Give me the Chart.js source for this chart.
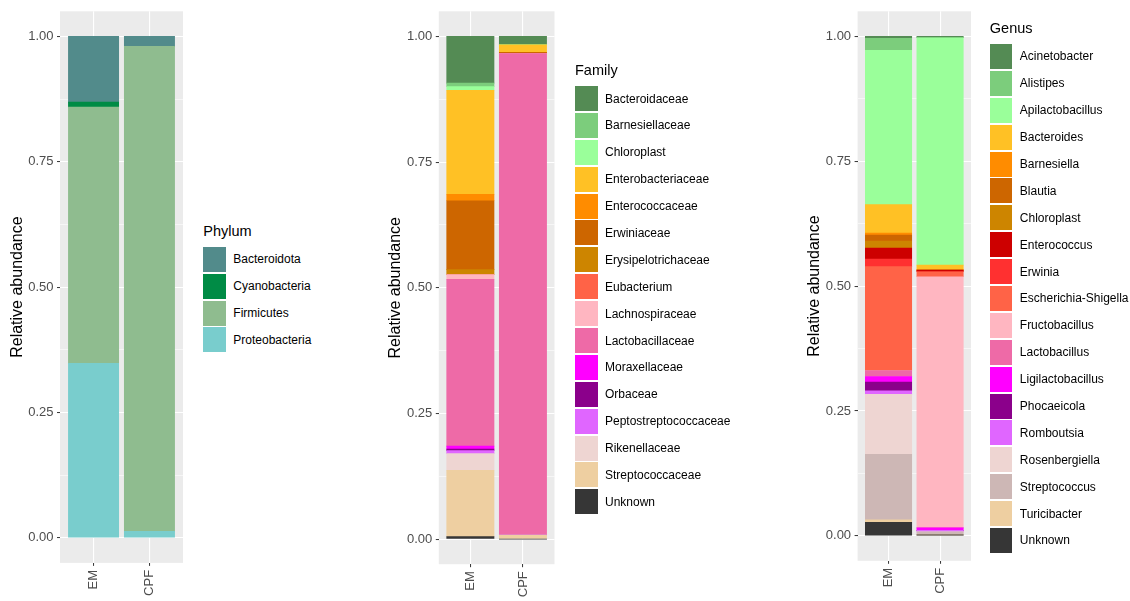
<!DOCTYPE html>
<html>
<head>
<meta charset="utf-8">
<script src="https://cdn.jsdelivr.net/npm/chart.js@4.4.1/dist/chart.umd.min.js"></script>
<style>
  html, body { margin: 0; padding: 0; background: #fff; width: 1130px; height: 601px; overflow: hidden; }
  canvas { position: absolute; top: 0; }
  .legend { position: absolute; font-family: 'Liberation Sans', Arial, sans-serif; color: #000; }
  .legend .ttl { font-size: 14.5px; line-height: 18px; height: 18px; margin-bottom: 7px; white-space: nowrap; }
  .legend .item { display: flex; align-items: center; height: 25px; margin-bottom: 1.9px; }
  .legend .key { width: 22.5px; height: 25px; flex: none; }
  .legend .lbl { margin-left: 7.5px; font-size: 12px; line-height: 14px; white-space: nowrap; }
</style>
</head>
<body>
<canvas id="phylum" width="200" height="601" style="left:0px"></canvas>
<canvas id="family" width="200" height="601" style="left:380px"></canvas>
<canvas id="genus" width="200" height="601" style="left:790px"></canvas>
<div id="phylum-legend" class="legend"></div>
<div id="family-legend" class="legend"></div>
<div id="genus-legend" class="legend"></div>
<script>
// Samples on the x axis
const samples = ['EM', 'CPF'];

// Y axis tick positions (major every 0.25, minor in between)
const yTickValues = [0, 0.125, 0.25, 0.375, 0.5, 0.625, 0.75, 0.875, 1];

// Phylum level
const phylumNames = ['Bacteroidota', 'Cyanobacteria', 'Firmicutes', 'Proteobacteria'];
const phylumEM  = [0.131, 0.010, 0.511, 0.348];
const phylumCPF = [0.020, 0.000, 0.967, 0.013];
const phylumColors = ['#528B8B', '#008B45', '#8FBC8F', '#79CDCD'];

// Family level
const familyNames = ['Bacteroidaceae', 'Barnesiellaceae', 'Chloroplast', 'Enterobacteriaceae',
  'Enterococcaceae', 'Erwiniaceae', 'Erysipelotrichaceae', 'Eubacterium', 'Lachnospiraceae',
  'Lactobacillaceae', 'Moraxellaceae', 'Orbaceae', 'Peptostreptococcaceae', 'Rikenellaceae',
  'Streptococcaceae', 'Unknown'];
const familyEM  = [0.093, 0.007, 0.007, 0.207, 0.013, 0.137, 0.010, 0.000, 0.009,
  0.332, 0.006, 0.003, 0.006, 0.033, 0.132, 0.005];
const familyCPF = [0.0165, 0.000, 0.000, 0.015, 0.000, 0.0027, 0.000, 0.000, 0.000,
  0.9578, 0.000, 0.000, 0.000, 0.000, 0.008, 0.000];
const familyColors = ['#548B54', '#7CCD7C', '#9AFF9A', '#FFC125', '#FF8C00', '#CD6600',
  '#CD8500', '#FF6347', '#FFB6C1', '#EE6AA7', '#FF00FF', '#8B008B', '#E066FF', '#EED5D2',
  '#EECFA1', '#363636'];

// Genus level
const genusNames = ['Acinetobacter', 'Alistipes', 'Apilactobacillus', 'Bacteroides', 'Barnesiella',
  'Blautia', 'Chloroplast', 'Enterococcus', 'Erwinia', 'Escherichia-Shigella', 'Fructobacillus',
  'Lactobacillus', 'Ligilactobacillus', 'Phocaeicola', 'Romboutsia', 'Rosenbergiella',
  'Streptococcus', 'Turicibacter', 'Unknown'];
const genusEM  = [0.004, 0.024, 0.309, 0.057, 0.004, 0.012, 0.014, 0.022, 0.015, 0.208, 0.000,
  0.012, 0.011, 0.018, 0.007, 0.120, 0.131, 0.005, 0.027];
const genusCPF = [0.003, 0.000, 0.455, 0.010, 0.000, 0.000, 0.000, 0.0034, 0.000, 0.010, 0.5026,
  0.000, 0.005, 0.000, 0.003, 0.000, 0.006, 0.000, 0.002];
const genusColors = ['#548B54', '#7CCD7C', '#9AFF9A', '#FFC125', '#FF8C00', '#CD6600', '#CD8500',
  '#CD0000', '#FF3030', '#FF6347', '#FFB6C1', '#EE6AA7', '#FF00FF', '#8B008B', '#E066FF',
  '#EED5D2', '#CDB7B5', '#EECFA1', '#363636'];

const FONT = "'Liberation Sans', Arial, sans-serif";
Chart.defaults.font.family = FONT;

const isMajor = v => Math.abs(v * 4 - Math.round(v * 4)) < 1e-6;

// Grey panel behind the bars and grid
const panelBackground = {
  id: 'panelBackground',
  beforeDraw(chart) {
    const { ctx, chartArea: a } = chart;
    ctx.save();
    ctx.fillStyle = '#EBEBEB';
    ctx.fillRect(a.left, a.top, a.right - a.left, a.bottom - a.top);
    ctx.restore();
  }
};

// Legend built as HTML next to the panel, centred on the plotting area
const htmlLegend = {
  id: 'htmlLegend',
  afterUpdate(chart, args, opts) {
    const box = document.getElementById(opts.containerID);
    box.innerHTML = '';
    const title = document.createElement('div');
    title.className = 'ttl';
    title.textContent = opts.title;
    box.appendChild(title);
    const items = Chart.defaults.plugins.legend.labels.generateLabels(chart).reverse();
    items.forEach(it => {
      const row = document.createElement('div');
      row.className = 'item';
      const key = document.createElement('span');
      key.className = 'key';
      key.style.background = it.fillStyle;
      const lbl = document.createElement('span');
      lbl.className = 'lbl';
      lbl.textContent = it.text;
      row.appendChild(key);
      row.appendChild(lbl);
      box.appendChild(row);
    });
    const a = chart.chartArea;
    const blockH = 18 + 7 + items.length * 26.9 - 1.9;
    box.style.left = opts.left + 'px';
    box.style.top = ((a.top + a.bottom) / 2 - blockH / 2) + 'px';
  }
};

function makePanel(id, names, em, cpf, colors, legendTitle, g) {
  // first level sits on top of the stack, so datasets go bottom-up
  const datasets = names.map((name, i) => ({
    label: name,
    data: [{ x: 1, y: em[i] }, { x: 2, y: cpf[i] }],
    backgroundColor: colors[i],
    borderWidth: 0,
    barThickness: g.bar
  })).reverse();

  return new Chart(document.getElementById(id), {
    type: 'bar',
    data: { datasets },
    options: {
      responsive: false,
      animation: false,
      layout: { padding: { top: g.top, bottom: 0, left: 0, right: g.W - g.right } },
      scales: {
        x: {
          type: 'linear',
          min: 0.4,
          max: 2.6,
          offset: false,
          stacked: true,
          afterBuildTicks: ax => { ax.ticks = [{ value: 1 }, { value: 2 }]; },
          afterFit: ax => { ax.height = 601 - g.bottom; },
          grid: { offset: false, color: '#FFFFFF', lineWidth: 1.1, tickColor: '#333333', tickLength: 3, tickWidth: 1 },
          border: { display: false },
          ticks: {
            color: '#4D4D4D',
            font: { family: FONT, size: 13 },
            padding: 4,
            minRotation: 90,
            maxRotation: 90,
            autoSkip: false,
            callback: v => samples[Math.round(v) - 1]
          }
        },
        y: {
          type: 'linear',
          position: 'left',
          min: -0.05,
          max: 1.05,
          stacked: true,
          afterBuildTicks: ax => { ax.ticks = yTickValues.map(v => ({ value: v })); },
          afterFit: ax => { ax.width = g.left; },
          grid: {
            color: '#FFFFFF',
            lineWidth: c => (c.tick && !isMajor(c.tick.value)) ? 0.55 : 1.1,
            tickColor: c => (c.tick && !isMajor(c.tick.value)) ? 'rgba(0,0,0,0)' : '#333333',
            tickLength: 3,
            tickWidth: 1
          },
          border: { display: false },
          ticks: {
            color: '#4D4D4D',
            font: { family: FONT, size: 13 },
            padding: 3.5,
            autoSkip: false,
            callback: v => isMajor(v) ? v.toFixed(2) : ''
          },
          title: {
            display: true,
            text: 'Relative abundance',
            color: '#000000',
            font: { family: FONT, size: 16 },
            padding: { top: g.titleX - 9.6, bottom: 0 }
          }
        }
      },
      plugins: {
        legend: { display: false },
        tooltip: { enabled: false },
        htmlLegend: { containerID: id + '-legend', title: legendTitle, left: g.legendLeft }
      }
    },
    plugins: [panelBackground, htmlLegend]
  });
}

makePanel('phylum', phylumNames, phylumEM, phylumCPF, phylumColors, 'Phylum',
  { W: 200, left: 60, right: 183, top: 8.1, bottom: 562.9, legendLeft: 203.3, titleX: 18, bar: 50.3 });
makePanel('family', familyNames, familyEM, familyCPF, familyColors, 'Family',
  { W: 200, left: 58.8, right: 174.5, top: 9.8, bottom: 564.2, legendLeft: 575, titleX: 16, bar: 47.3 });
makePanel('genus', genusNames, genusEM, genusCPF, genusColors, 'Genus',
  { W: 200, left: 67.6, right: 181, top: 9.2, bottom: 560.8, legendLeft: 989.8, titleX: 25, bar: 46.4 });
</script>
</body>
</html>
